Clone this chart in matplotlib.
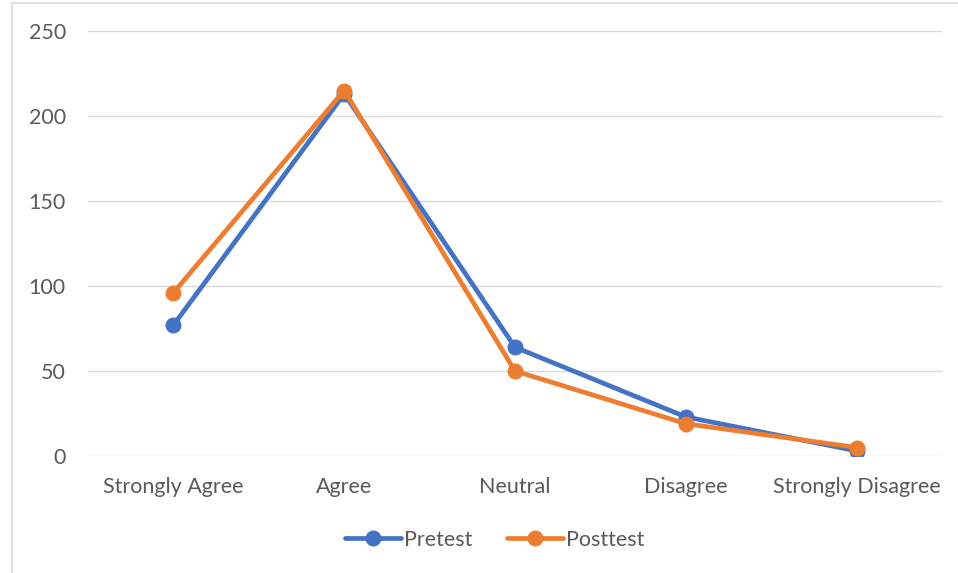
import matplotlib.pyplot as plt
from matplotlib.patches import Rectangle

categories = ["Strongly Agree", "Agree", "Neutral", "Disagree", "Strongly Disagree"]
pretest = [77, 213, 64, 23, 3]
posttest = [96, 215, 50, 19, 5]
yticks = [0, 50, 100, 150, 200, 250]

plt.rcParams['font.family'] = ['Lato', 'DejaVu Sans']

fig = plt.figure(figsize=(9.58, 5.73), dpi=100)
ax = fig.add_axes([88 / 958, 117 / 573, 854 / 958, 425 / 573])

x = list(range(len(categories)))
ax.plot(x, pretest, color='#4472C4', lw=3.4, marker='o', ms=10.5, label='Pretest',
        solid_joinstyle='round', solid_capstyle='round')
ax.plot(x, posttest, color='#ED7D31', lw=3.4, marker='o', ms=10.5, label='Posttest',
        solid_joinstyle='round', solid_capstyle='round')

ax.set_xlim(-0.5, len(categories) - 0.5)
ax.set_ylim(0, 250)
ax.set_yticks(yticks)
ax.set_xticks(x)
ax.set_xticklabels(categories)
ax.grid(axis='y', color='#D9D9D9', lw=1)
ax.set_axisbelow(True)
for s in ax.spines.values():
    s.set_visible(False)
ax.tick_params(length=0, labelsize=15.5, labelcolor='#595959')
ax.tick_params(axis='x', pad=15)
ax.tick_params(axis='y', pad=16)

leg = fig.legend(loc='center', bbox_to_anchor=(495 / 958, 1 - 540 / 573), ncol=2, frameon=False,
                 fontsize=15.5, handlelength=2.6, columnspacing=1.6, handletextpad=0.15)
for t in leg.get_texts():
    t.set_color('#595959')

fig.patches.append(Rectangle((12 / 958, -0.01), 1.0, 1 - 3 / 573 + 0.01, transform=fig.transFigure,
                             fill=False, edgecolor='#D9D9D9', lw=1.2))

plt.savefig('out.png', dpi=100)
